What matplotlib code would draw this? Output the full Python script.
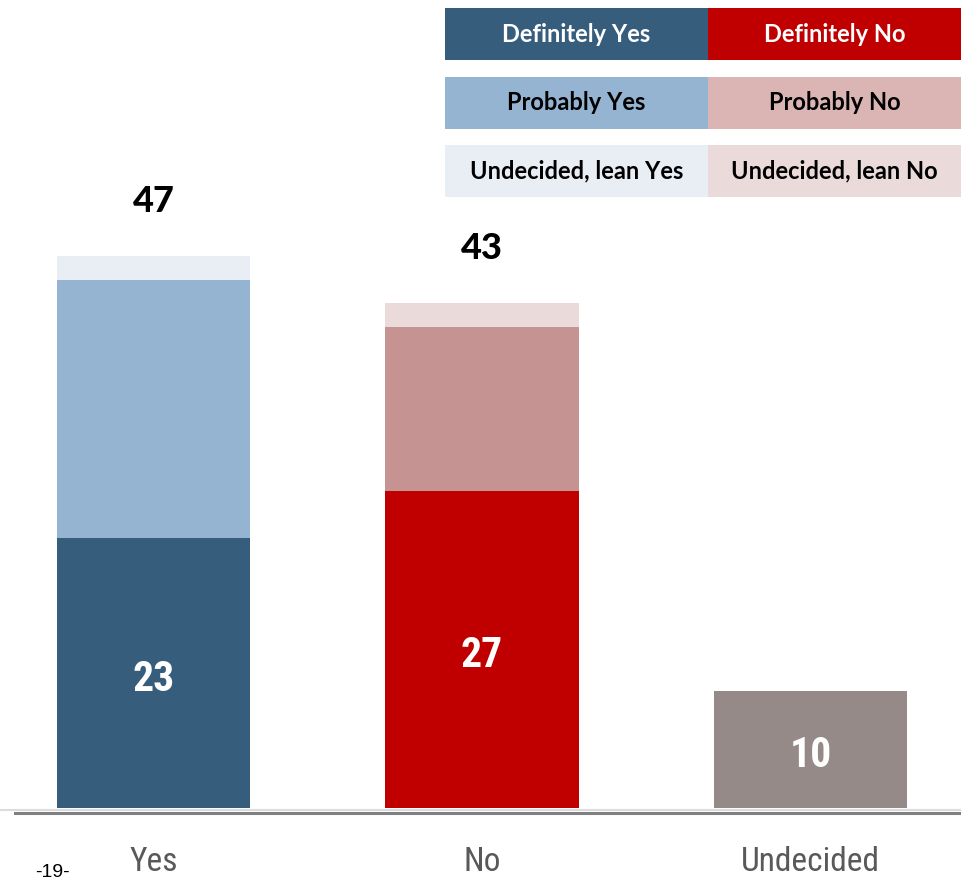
import matplotlib.pyplot as plt
from matplotlib.patches import Rectangle
from matplotlib import font_manager

# data
categories = ['Yes', 'No', 'Undecided']
definite = [23, 27, 10]
probably = [22, 14, 0]
lean = [2, 2, 0]
totals = [47, 43, None]

definite_colors = ['#375D7D', '#C00000', '#968A88']
probably_colors = ['#95B4D1', '#C59391', '#FFFFFF']
lean_colors = ['#E9EDF4', '#EADADA', '#FFFFFF']

legend_labels = [['Definitely Yes', 'Definitely No'],
                 ['Probably Yes', 'Probably No'],
                 ['Undecided, lean Yes', 'Undecided, lean No']]
legend_fill = [['#375D7D', '#C00000'],
               ['#95B4D1', '#DAB5B4'],
               ['#E9EDF4', '#EADADA']]
legend_text = [['white', 'white'], ['black', 'black'], ['black', 'black']]

# pick a condensed face if one is there
names = {f.name for f in font_manager.fontManager.ttflist}
narrow = 'DejaVu Sans'
for cand in ['Roboto Condensed', 'Liberation Sans Narrow', 'DejaVu Sans Condensed']:
    if cand in names:
        narrow = cand
        break

W, H = 961, 881
fig = plt.figure(figsize=(W / 100, H / 100), dpi=100)

base_px = 808
ax = fig.add_axes([0, (H - base_px) / H, 1, base_px / H])
ax.set_xlim(-0.467, 2.458)
ax.set_ylim(0, base_px / 11.74)
ax.axis('off')

x = range(len(categories))
bw = 0.588
ax.bar(x, definite, bw, color=definite_colors)
ax.bar(x, probably, bw, bottom=definite, color=probably_colors)
bottoms2 = [d + p for d, p in zip(definite, probably)]
ax.bar(x, lean, bw, bottom=bottoms2, color=lean_colors)

for i, v in enumerate(definite):
    ax.text(i, v / 2 - 0.55, str(v), ha='center', va='center', color='white',
            fontsize=30, fontweight='bold', family=[narrow, 'DejaVu Sans'],
            fontstretch='condensed')
for i, t in enumerate(totals):
    if t is not None:
        ax.text(i, t + 4.7, str(t), ha='center', va='center', color='black',
                fontsize=26, fontweight='black', family=['Lato', 'DejaVu Sans'])

# baseline lines
fig.add_artist(plt.Line2D([0, 1], [(H - 809.5) / H] * 2, color='#DCDCDC', lw=1.5))
fig.add_artist(plt.Line2D([15 / W, 1], [(H - 813) / H] * 2, color='#808080', lw=2.2))

# category labels
for i, c in enumerate(categories):
    xf = ax.transData.transform((i, 0))[0] / W
    fig.text(xf, (H - 871) / H, c, ha='center', va='baseline', color='#595959',
             fontsize=24, family=[narrow, 'DejaVu Sans'], fontstretch='condensed')

fig.text(35 / W, (H - 877) / H, '-19-', ha='left', va='baseline', fontsize=14,
         family=['Liberation Sans', 'DejaVu Sans'])

# legend table
col_x = [445, 708]
col_w = [263, 253]
row_y = [8, 77, 145]
row_h = 52
for r in range(3):
    for c in range(2):
        x0 = col_x[c] / W
        y0 = (H - row_y[r] - row_h) / H
        fig.add_artist(Rectangle((x0, y0), col_w[c] / W, row_h / H,
                                 transform=fig.transFigure, color=legend_fill[r][c], lw=0))
        fig.text((col_x[c] + col_w[c] / 2) / W, (H - row_y[r] - row_h / 2) / H,
                 legend_labels[r][c], ha='center', va='center',
                 color=legend_text[r][c], fontsize=17, fontweight='bold',
                 family=['Lato', 'DejaVu Sans'])

fig.savefig('out.png', dpi=100)
